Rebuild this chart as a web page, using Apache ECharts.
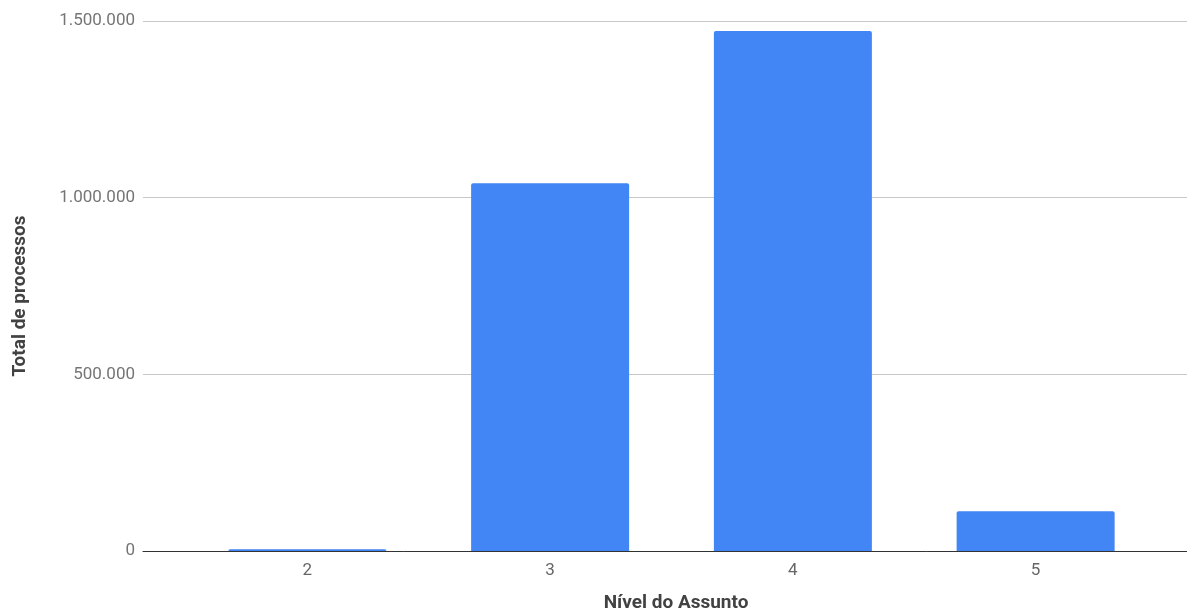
<!DOCTYPE html>
<html>
<head>
<meta charset="utf-8">
<script src="https://cdn.jsdelivr.net/npm/echarts@6/dist/echarts.min.js"></script>
<style>
  html, body { margin: 0; padding: 0; background: #fff; }
  #chart { width: 1187px; height: 610px; }
</style>
</head>
<body>
<div id="chart"></div>
<script>
// Processes per subject level
const niveis = ['2', '3', '4', '5'];
const totalProcessos = [5000, 1041000, 1472000, 112500];
const yTicks = [0, 500000, 1000000, 1500000];

const yMax = yTicks[yTicks.length - 1];
const yStep = yTicks[1] - yTicks[0];

function fmtBR(v) {
  return String(Math.round(v)).replace(/\B(?=(\d{3})+(?!\d))/g, '.');
}

const chart = echarts.init(document.getElementById('chart'), null, { renderer: 'canvas' });

chart.setOption({
  animation: false,
  textStyle: { fontFamily: 'Roboto' },
  grid: [
    // full-width grid carrying the value labels and gridlines
    { left: 143, right: 0, top: 21, bottom: 59, containLabel: false },
    // inner grid holding the bars
    { left: 186, right: 30, top: 21, bottom: 59, containLabel: false }
  ],
  xAxis: [
    {
      gridIndex: 0, type: 'value', min: 0, max: 1, show: true,
      axisLine: { show: true, onZero: false, lineStyle: { color: '#333', width: 1 } },
      axisTick: { show: false }, axisLabel: { show: false }, splitLine: { show: false }
    },
    {
      gridIndex: 1, type: 'category', data: niveis,
      axisLine: { show: false }, axisTick: { show: false },
      axisLabel: { color: '#666', fontSize: 17, margin: 11, fontFamily: 'Roboto' }
    }
  ],
  yAxis: [
    {
      gridIndex: 0, type: 'value', min: 0, max: yMax, interval: yStep,
      axisLine: { show: false }, axisTick: { show: false },
      axisLabel: { color: '#757575', fontSize: 17, margin: 8, formatter: fmtBR, fontFamily: 'Roboto' },
      splitLine: { lineStyle: { color: '#c8c8c8', width: 1 } }
    },
    {
      gridIndex: 1, type: 'value', min: 0, max: yMax, interval: yStep, show: false,
      splitLine: { show: false }
    }
  ],
  series: [
    {
      type: 'bar', xAxisIndex: 1, yAxisIndex: 1,
      data: totalProcessos, barWidth: 158,
      itemStyle: { color: '#4285f4', borderRadius: [2, 2, 0, 0] },
      z: 1
    }
  ],
  graphic: [
    {
      type: 'text', x: 676, y: 603, silent: true,
      style: {
        text: 'Nível do Assunto', fill: '#424242', fontSize: 19, fontWeight: 'bold',
        fontFamily: 'Roboto', align: 'center', verticalAlign: 'middle'
      }
    },
    {
      type: 'text', x: 20, y: 296, rotation: Math.PI / 2, silent: true,
      style: {
        text: 'Total de processos', fill: '#424242', fontSize: 19, fontWeight: 'bold',
        fontFamily: 'Roboto', align: 'center', verticalAlign: 'middle'
      }
    }
  ]
});
</script>
</body>
</html>
